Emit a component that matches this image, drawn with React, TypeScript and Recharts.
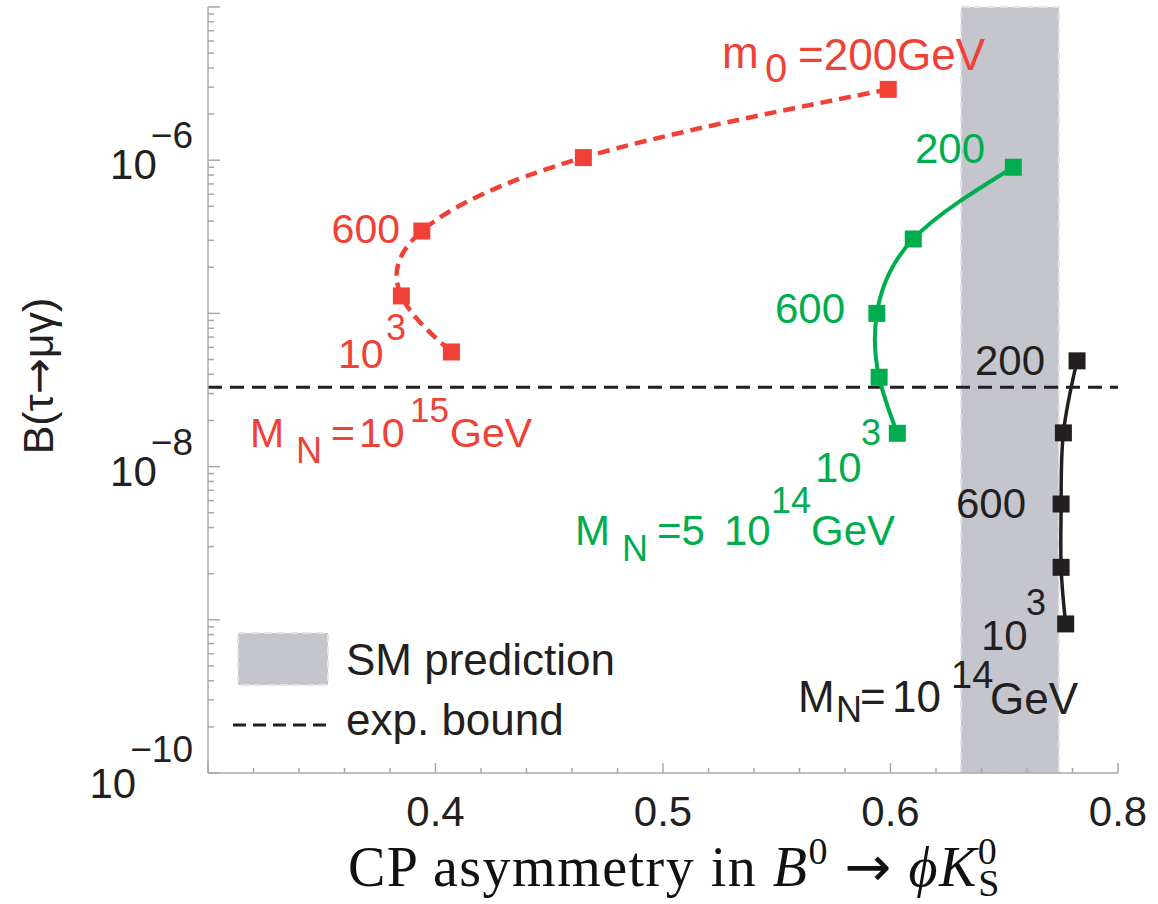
import React from "react";
import { ComposedChart, Line, XAxis, YAxis, ReferenceArea, ReferenceLine } from "recharts";

// m0 scan points (200 ... 1000 GeV) for three M_N choices
const redX = [0.599, 0.465, 0.394, 0.385, 0.407];
const redY = [2.9e-6, 1.04e-6, 3.45e-7, 1.3e-7, 5.6e-8];
const greenX = [0.654, 0.61, 0.594, 0.595, 0.603];
const greenY = [9.0e-7, 3.06e-7, 1.0e-7, 3.83e-8, 1.65e-8];
const blackX = [0.682, 0.676, 0.675, 0.675, 0.677];
const blackY = [4.9e-8, 1.66e-8, 5.7e-9, 2.2e-9, 9.4e-10];

const expBound = 3.3e-8;
const smBand = [0.631, 0.674];

const xTicks = [0.3, 0.32, 0.34, 0.36, 0.38, 0.4, 0.42, 0.44, 0.46, 0.48, 0.5, 0.52, 0.54, 0.56, 0.58, 0.6, 0.62, 0.64, 0.66, 0.68, 0.7];
const xLabelTicks = [0.4, 0.5, 0.6, 0.7];
const xLabels = ["0.4", "0.5", "0.6", "0.8"];

const yDecades = [1e-10, 1e-9, 1e-8, 1e-7, 1e-6];
const yMantissas = [1, 2, 3, 4, 5, 6, 7, 8, 9];
const yTicks = [...yDecades.flatMap((d) => yMantissas.map((m) => m * d)), 1e-5];
const yLabelTicks = [1e-10, 1e-8, 1e-6];
const yLabelExps = ["\u221210", "\u22128", "\u22126"];

const RED = "#ef4136";
const GREEN = "#00ad4e";
const BLACK = "#231f20";
const FRAME = "#a8a8a8";
const SANS = "'Liberation Sans', Arial, sans-serif";

const toPoints = (xs: number[], ys: number[]) => xs.map((x, i) => ({ x, y: ys[i] }));
const redData = toPoints(redX, redY);
const greenData = toPoints(greenX, greenY);
const blackData = toPoints(blackX, blackY);

const isMajorX = (v: number) => Math.abs(v * 10 - Math.round(v * 10)) < 1e-6;
const isMajorY = (v: number) => Math.abs(Math.log10(v) - Math.round(Math.log10(v))) < 1e-6;

const square = (color: string, name: string) => (p: any) => (
  <rect key={`${name}-${p.index}`} x={p.cx - 8.5} y={p.cy - 8.5} width={17} height={17} fill={color} />
);

function BottomTick(p: any) {
  const v = p.payload.value;
  const len = isMajorX(v) ? 10 : 5;
  const li = xLabelTicks.findIndex((t) => Math.abs(t - v) < 1e-6);
  return (
    <g>
      <line x1={p.x} x2={p.x} y1={p.y} y2={p.y - len} stroke={FRAME} strokeWidth={1.5} />
      {li >= 0 && (
        <text x={p.x} y={p.y + 53} textAnchor="middle" fontFamily={SANS} fontSize={42} fill={BLACK}>
          {xLabels[li]}
        </text>
      )}
    </g>
  );
}

function TopTick(p: any) {
  const len = isMajorX(p.payload.value) ? 10 : 5;
  return <line x1={p.x} x2={p.x} y1={p.y} y2={p.y + len} stroke={FRAME} strokeWidth={1.5} />;
}

function LeftTick(p: any) {
  const v = p.payload.value;
  const len = isMajorY(v) ? 12 : 6;
  const li = yLabelTicks.findIndex((t) => Math.abs(Math.log10(t) - Math.log10(v)) < 1e-6);
  const bottom = li === 0;
  return (
    <g>
      <line x1={p.x} x2={p.x + len} y1={p.y} y2={p.y} stroke={FRAME} strokeWidth={1.5} />
      {li >= 0 && (
        <text x={p.x - 15} y={p.y + (bottom ? 25 : 19)} textAnchor="end" fontFamily={SANS} fontSize={42} fill={BLACK}>
          10
          <tspan dx={-6} dy={bottom ? -36 : -31} fontSize={37}>
            {yLabelExps[li]}
          </tspan>
        </text>
      )}
    </g>
  );
}

function RightTick(p: any) {
  const len = isMajorY(p.payload.value) ? 12 : 6;
  return <line x1={p.x} x2={p.x - len} y1={p.y} y2={p.y} stroke={FRAME} strokeWidth={1.5} />;
}

function T({ x, y, s = 42, c, a, children }: any) {
  return (
    <text x={x} y={y} fontSize={s} fill={c} fontFamily={SANS} textAnchor={a}>
      {children}
    </text>
  );
}

function Overlay() {
  return (
    <svg width={1158} height={904} style={{ position: "absolute", left: 0, top: 0, pointerEvents: "none" }}>
      {/* red annotations */}
      <T x={722} y={68} s={44} c={RED}>m</T>
      <T x={765} y={82} s={40} c={RED}>0</T>
      <T x={798} y={70} s={44} c={RED}>=200GeV</T>
      <T x={400} y={243} s={41} c={RED} a="end">600</T>
      <T x={338} y={368} s={41} c={RED}>10</T>
      <T x={386} y={340} s={36} c={RED}>3</T>
      <T x={250} y={447} s={41} c={RED}>M</T>
      <T x={296} y={463} s={36} c={RED}>N</T>
      <T x={331} y={447} s={41} c={RED}>=</T>
      <T x={359} y={447} s={41} c={RED}>10</T>
      <T x={410} y={422} s={35} c={RED}>15</T>
      <T x={450} y={447} s={41} c={RED}>GeV</T>

      {/* green annotations */}
      <T x={915} y={163} c={GREEN}>200</T>
      <T x={775} y={323} c={GREEN}>600</T>
      <T x={815} y={482} c={GREEN}>10</T>
      <T x={861} y={445} s={36} c={GREEN}>3</T>
      <T x={575} y={545} c={GREEN}>M</T>
      <T x={622} y={561} s={36} c={GREEN}>N</T>
      <T x={657} y={545} c={GREEN}>=5</T>
      <T x={724} y={545} c={GREEN}>10</T>
      <T x={771} y={513} s={36} c={GREEN}>14</T>
      <T x={811} y={545} c={GREEN}>GeV</T>

      {/* black annotations */}
      <T x={975} y={375} c={BLACK}>200</T>
      <T x={956} y={518} c={BLACK}>600</T>
      <T x={981} y={650} c={BLACK}>10</T>
      <T x={1026} y={615} s={36} c={BLACK}>3</T>
      <T x={798} y={712} s={44} c={BLACK}>M</T>
      <T x={836} y={722} s={36} c={BLACK}>N</T>
      <T x={860} y={712} s={44} c={BLACK}>=</T>
      <T x={892} y={712} s={44} c={BLACK}>10</T>
      <T x={951} y={688} s={38} c={BLACK}>14</T>
      <T x={990} y={714} s={44} c={BLACK}>GeV</T>

      {/* legend */}
      <rect x={238} y={633} width={90} height={52} fill="#c4c5cd" stroke="#e4e4e8" strokeWidth={2} strokeDasharray="8 5" />
      <T x={346} y={675} s={44} c={BLACK}>SM prediction</T>
      <line x1={233} x2={330} y1={725} y2={725} stroke={BLACK} strokeWidth={3} strokeDasharray="13 7" />
      <T x={346} y={735} s={44} c={BLACK}>exp. bound</T>

      {/* axis titles */}
      <text x={53} y={376} transform="rotate(-90 53 376)" textAnchor="middle" fontFamily={SANS} fontSize={43} fill={BLACK}>
        B(τ<tspan fontFamily="'DejaVu Sans', sans-serif">→</tspan>μγ)
      </text>
      <text x={348} y={886} fontFamily="'Liberation Serif', 'DejaVu Serif', serif" fontSize={56} letterSpacing={1.5} fill="#111">
        CP asymmetry in <tspan fontStyle="italic">B</tspan>
        <tspan fontSize={38} dy={-22}>0</tspan>
        <tspan dy={22}> </tspan>
        <tspan fontFamily="'DejaVu Sans', sans-serif">→</tspan>
        <tspan> </tspan>
        <tspan fontStyle="italic">ϕK</tspan>
        <tspan fontSize={38} dy={-22}>0</tspan>
        <tspan fontSize={38} dx={-20} dy={32}>S</tspan>
      </text>
    </svg>
  );
}

export default function App() {
  return (
    <div style={{ position: "absolute", left: 0, top: 0, width: 1158, height: 904, background: "#fff" }}>
      <ComposedChart width={1158} height={904} margin={{ top: 7, right: 40, bottom: 0, left: 0 }}>
        <XAxis
          xAxisId="b"
          type="number"
          dataKey="x"
          domain={[0.3, 0.7]}
          ticks={xTicks}
          interval={0}
          allowDataOverflow
          height={131}
          tickSize={0}
          tickMargin={0}
          tickLine={false}
          axisLine={{ stroke: FRAME, strokeWidth: 1.5 }}
          tick={BottomTick}
        />
        <XAxis
          xAxisId="t"
          orientation="top"
          type="number"
          dataKey="x"
          domain={[0.3, 0.7]}
          ticks={xTicks}
          interval={0}
          allowDataOverflow
          height={0}
          tickSize={0}
          tickMargin={0}
          tickLine={false}
          axisLine={{ stroke: FRAME, strokeWidth: 1.5 }}
          tick={TopTick}
        />
        <YAxis
          yAxisId="l"
          type="number"
          scale="log"
          domain={[1e-10, 1e-5]}
          ticks={yTicks}
          interval={0}
          allowDataOverflow
          width={208}
          tickSize={0}
          tickMargin={0}
          tickLine={false}
          axisLine={{ stroke: FRAME, strokeWidth: 1.5 }}
          tick={LeftTick}
        />
        <YAxis
          yAxisId="r"
          orientation="right"
          type="number"
          scale="log"
          domain={[1e-10, 1e-5]}
          ticks={yTicks}
          interval={0}
          allowDataOverflow
          width={0}
          tickSize={0}
          tickMargin={0}
          tickLine={false}
          axisLine={{ stroke: FRAME, strokeWidth: 1.5 }}
          tick={RightTick}
        />
        <ReferenceArea
          xAxisId="b"
          yAxisId="l"
          x1={smBand[0]}
          x2={smBand[1]}
          fill="#c4c5cd"
          fillOpacity={1}
          stroke="#e4e4e8"
          strokeWidth={2}
          strokeDasharray="8 5"
        />
        <ReferenceLine xAxisId="b" yAxisId="l" y={expBound} stroke={BLACK} strokeWidth={3} strokeDasharray="14 8" />
        <Line
          xAxisId="b"
          yAxisId="l"
          data={redData}
          dataKey="y"
          type="natural"
          stroke={RED}
          strokeWidth={4.5}
          strokeDasharray="12 7"
          dot={square(RED, "red")}
          activeDot={false}
          isAnimationActive={false}
        />
        <Line
          xAxisId="b"
          yAxisId="l"
          data={greenData}
          dataKey="y"
          type="natural"
          stroke={GREEN}
          strokeWidth={4}
          dot={square(GREEN, "green")}
          activeDot={false}
          isAnimationActive={false}
        />
        <Line
          xAxisId="b"
          yAxisId="l"
          data={blackData}
          dataKey="y"
          type="natural"
          stroke={BLACK}
          strokeWidth={3.5}
          dot={square(BLACK, "black")}
          activeDot={false}
          isAnimationActive={false}
        />
      </ComposedChart>
      <Overlay />
    </div>
  );
}
